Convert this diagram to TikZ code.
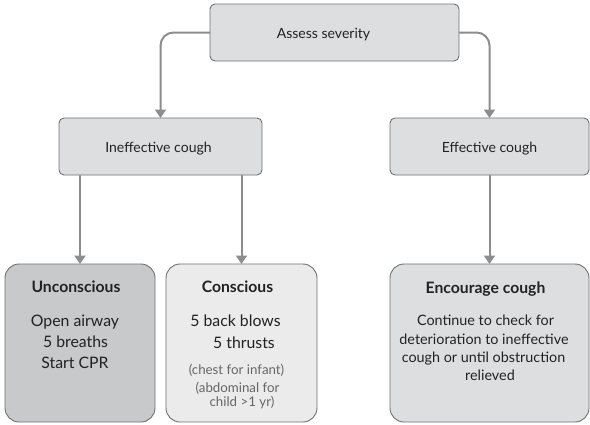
\documentclass[tikz,border=0pt]{standalone}
\usepackage{fontspec}
\setmainfont{Lato}
\usetikzlibrary{arrows.meta}
\definecolor{boxline}{HTML}{6F7073}
\definecolor{boxfill}{HTML}{DDDEE0}
\definecolor{uncfill}{HTML}{C8C9CB}
\definecolor{confill}{HTML}{EBEBEC}
\definecolor{arrgray}{HTML}{8C8D8F}
\definecolor{txt}{HTML}{222222}
\definecolor{smalltxt}{HTML}{666666}
\newdimen\natsum
\newcommand\resetnat{\global\natsum=0pt\relax}
\newcommand\addnat[2]{\setbox0\hbox{#1\fontsize{10}{12}\selectfont #2}\global\advance\natsum by \wd0\relax}
\newcommand\fitsize[2]{\pgfmathsetmacro\fittmp{10*#2/\natsum}\xdef#1{\fittmp}}
\begin{document}
% font sizes fitted to the reference line widths
\resetnat\addnat{}{Assess severity}\addnat{}{Ineffective cough}\addnat{}{Effective cough}\fitsize\topsz{295}%
\resetnat\addnat{\bfseries}{Unconscious}\addnat{\bfseries}{Conscious}\addnat{\bfseries}{Encourage cough}\fitsize\ttlsz{280}%
\resetnat\addnat{}{Open airway}\addnat{}{5 breaths}\addnat{}{Start CPR}\addnat{}{5 back blows}\addnat{}{5 thrusts}\fitsize\bodysz{372}%
\resetnat\addnat{}{(chest for infant)}\addnat{}{(abdominal for}\addnat{}{child >1 yr)}\fitsize\smallsz{244}%
\resetnat\addnat{}{Continue to check for}\addnat{}{deterioration to ineffective}\addnat{}{cough or until obstruction}\addnat{}{relieved}\fitsize\encsz{519}%
\begin{tikzpicture}[x=1pt,y=-1pt,
  box/.style={draw=boxline, line width=0.9pt, rounded corners=5pt, fill=boxfill, inner sep=0pt, outer sep=0pt, minimum height=57pt},
  bigbox/.style={draw=boxline, line width=0.9pt, rounded corners=14pt, inner sep=0pt, outer sep=0pt, minimum height=158pt},
  conn/.style={draw=arrgray, line width=2pt, -{Triangle[length=8.5pt,width=11pt]}},
  lbl/.style={anchor=base, inner sep=0pt, text=txt, font=\fontsize{\topsz}{15}\selectfont},
  ttl/.style={anchor=base, inner sep=0pt, text=txt, font=\bfseries\fontsize{\ttlsz}{16}\selectfont},
  body/.style={anchor=base, inner sep=0pt, text=txt, font=\fontsize{\bodysz}{16}\selectfont},
  small/.style={anchor=base, inner sep=0pt, text=smalltxt, font=\fontsize{\smallsz}{12}\selectfont},
  enc/.style={anchor=base, inner sep=0pt, text=txt, font=\fontsize{\encsz}{14}\selectfont},
]
\fill[white] (0,0) rectangle (590,424);
\useasboundingbox (0,0) rectangle (590,424);

% boxes
\node[box, minimum width=249pt] (assess) at (334.5,32.5) {};
\node[box, minimum width=203pt] (ineff) at (160.5,146.5) {};
\node[box, minimum width=199pt] (eff) at (489.5,146.5) {};
\node[bigbox, fill=uncfill, minimum width=150pt] (unc) at (80,343) {};
\node[bigbox, fill=confill, minimum width=151pt] (con) at (241.5,343) {};
\node[bigbox, fill=boxfill, minimum width=199pt] (encb) at (489.5,343) {};

% labels
\node[lbl] (tassess) at (323.5,38) {Assess severity};
\node[lbl] (tineff) at (158.5,152) {Ineffective cough};
\node[lbl] (teff) at (489.5,152) {Effective cough};

\node[ttl] (tunc) at (76,292) {Unconscious};
\node[body] (u1) at (75,326) {Open airway};
\node[body] (u2) at (75.5,347) {5 breaths};
\node[body] (u3) at (75,368) {Start CPR};

\node[ttl] (tcon) at (237.5,292) {Conscious};
\node[body] (c1) at (235.5,326) {5 back blows};
\node[body] (c2) at (244,348) {5 thrusts};
\node[small] (c3) at (236.5,374) {(chest for infant)};
\node[small] (c4) at (237.5,392) {(abdominal for};
\node[small] (c5) at (242,406) {child >1 yr)};

\node[ttl] (tenc) at (485.5,293) {Encourage cough};
\node[enc] (e1) at (485.5,325) {Continue to check for};
\node[enc] (e2) at (484,344) {deterioration to ineffective};
\node[enc] (e3) at (483.5,362) {cough or until obstruction};
\node[enc] (e4) at (490,380) {relieved};

% connectors
\draw[conn, rounded corners=13pt] (assess.west) -| (ineff.north);
\draw[conn, rounded corners=13pt] (assess.east) -| (eff.north);
\draw[conn] (ineff.south -| unc.north) -- (unc.north);
\draw[conn] (ineff.south -| con.north) -- (con.north);
\draw[conn] (eff.south) -- (encb.north);
\end{tikzpicture}
\end{document}
